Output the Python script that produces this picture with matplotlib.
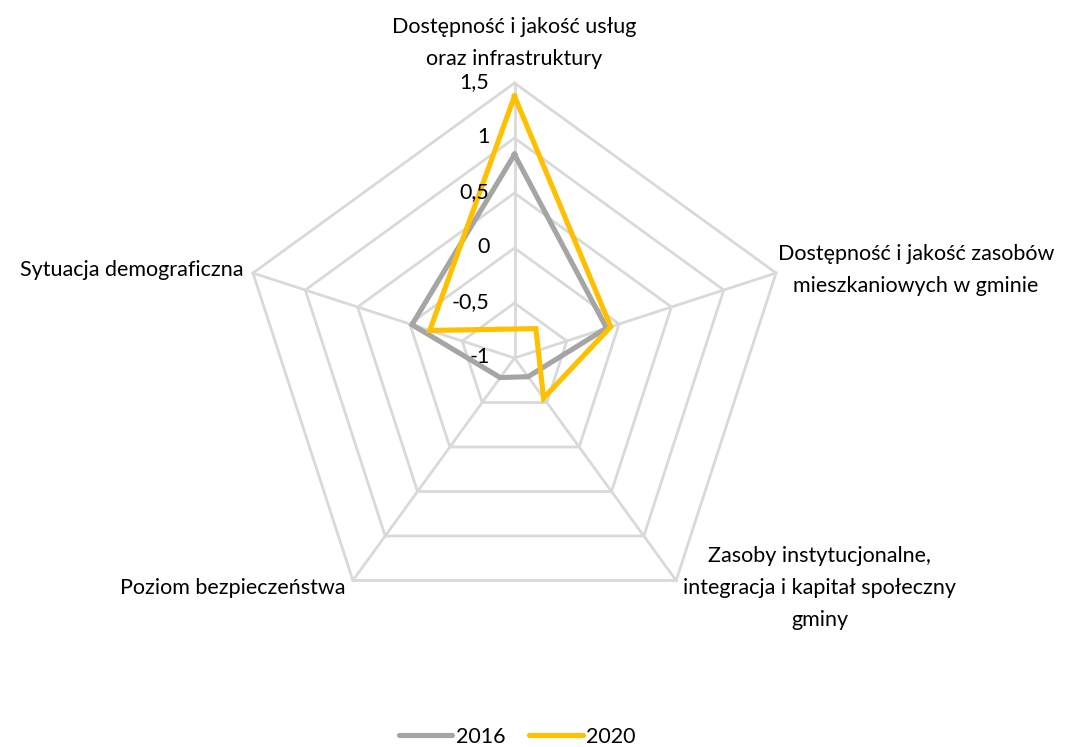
import numpy as np
import matplotlib
matplotlib.use("Agg")
import matplotlib.pyplot as plt
from matplotlib.lines import Line2D

plt.rcParams['font.family'] = ['Lato', 'DejaVu Sans']

categories = [
    "Dostępność i jakość usług\noraz infrastruktury",
    "Dostępność i jakość zasobów\nmieszkaniowych w gminie",
    "Zasoby instytucjonalne,\nintegracja i kapitał społeczny\ngminy",
    "Poziom bezpieczeństwa",
    "Sytuacja demograficzna",
]
series_names = ["2016", "2020"]
values_2016 = [0.85, -0.12, -0.79, -0.78, -0.02]
values_2020 = [1.38, -0.08, -0.55, -1.33, -0.19]
tick_values = [-1, -0.5, 0, 0.5, 1, 1.5]
tick_labels = ["-1", "-0,5", "0", "0,5", "1", "1,5"]

colors = ["#A5A5A5", "#FFC000"]
grid_color = "#D9D9D9"
rmin, rmax = -1.0, 1.5

W, H = 1070, 747
fig = plt.figure(figsize=(W / 100, H / 100), dpi=100)
ax = fig.add_axes([0, 0, 1, 1])
ax.set_axis_off()

# center & scale (pixels)
cx, cy, scale = 514.5, 358.0, 110.0
ax.set_xlim(-cx / scale, (W - cx) / scale)
ax.set_ylim(-(H - cy) / scale, cy / scale)
ax.set_aspect('equal')

n = len(categories)
angles = np.pi / 2 - np.arange(n) * 2 * np.pi / n


def to_xy(vals):
    r = np.asarray(vals, dtype=float) - rmin
    return r * np.cos(angles), r * np.sin(angles)


# grid rings
for tv in tick_values[1:]:
    x, y = to_xy([tv] * n)
    ax.plot(np.append(x, x[0]), np.append(y, y[0]), color=grid_color, lw=2.0,
            zorder=1, solid_joinstyle='miter')
# spokes
ox, oy = to_xy([rmax] * n)
for i in range(n):
    ax.plot([0, ox[i]], [0, oy[i]], color=grid_color, lw=2.0, zorder=1)

# series
for vals, c, name in zip([values_2016, values_2020], colors, series_names):
    x, y = to_xy(vals)
    ax.plot(np.append(x, x[0]), np.append(y, y[0]), color=c, lw=3.7, zorder=3,
            solid_joinstyle='miter', label=name)

# tick labels along top spoke
fs = 15.5
for tv, tl in zip(tick_values, tick_labels):
    r = tv - rmin
    ax.annotate(tl, xy=(0, r), xytext=(-25, 1), textcoords='offset pixels',
                ha='right', va='center', fontsize=fs, color='#000000', zorder=4)

# category labels
ls = 1.75
label_cfg = [
    dict(off=(0, 14), ha='center', va='bottom'),
    dict(off=(140, 3), ha='center', va='center'),
    dict(off=(7, -8), ha='left', va='center'),
    dict(off=(-7, -8), ha='right', va='center'),
    dict(off=(-9, 3), ha='right', va='center'),
]
for i, (lab, cfg) in enumerate(zip(categories, label_cfg)):
    ax.annotate(lab, xy=(ox[i], oy[i]), xytext=cfg['off'], textcoords='offset pixels',
                ha=cfg['ha'], va=cfg['va'], multialignment='center',
                fontsize=fs, color='#000000', linespacing=ls)

handles = [Line2D([0], [0], color=c, lw=3.7, solid_capstyle='round') for c in colors]
fig.legend(handles, series_names, loc='center', bbox_to_anchor=(517 / W, 1 - 737 / H),
           ncol=2, frameon=False, fontsize=fs, handlelength=2.5, handletextpad=0.15,
           columnspacing=1.1)

fig.savefig("out.png", dpi=100)
